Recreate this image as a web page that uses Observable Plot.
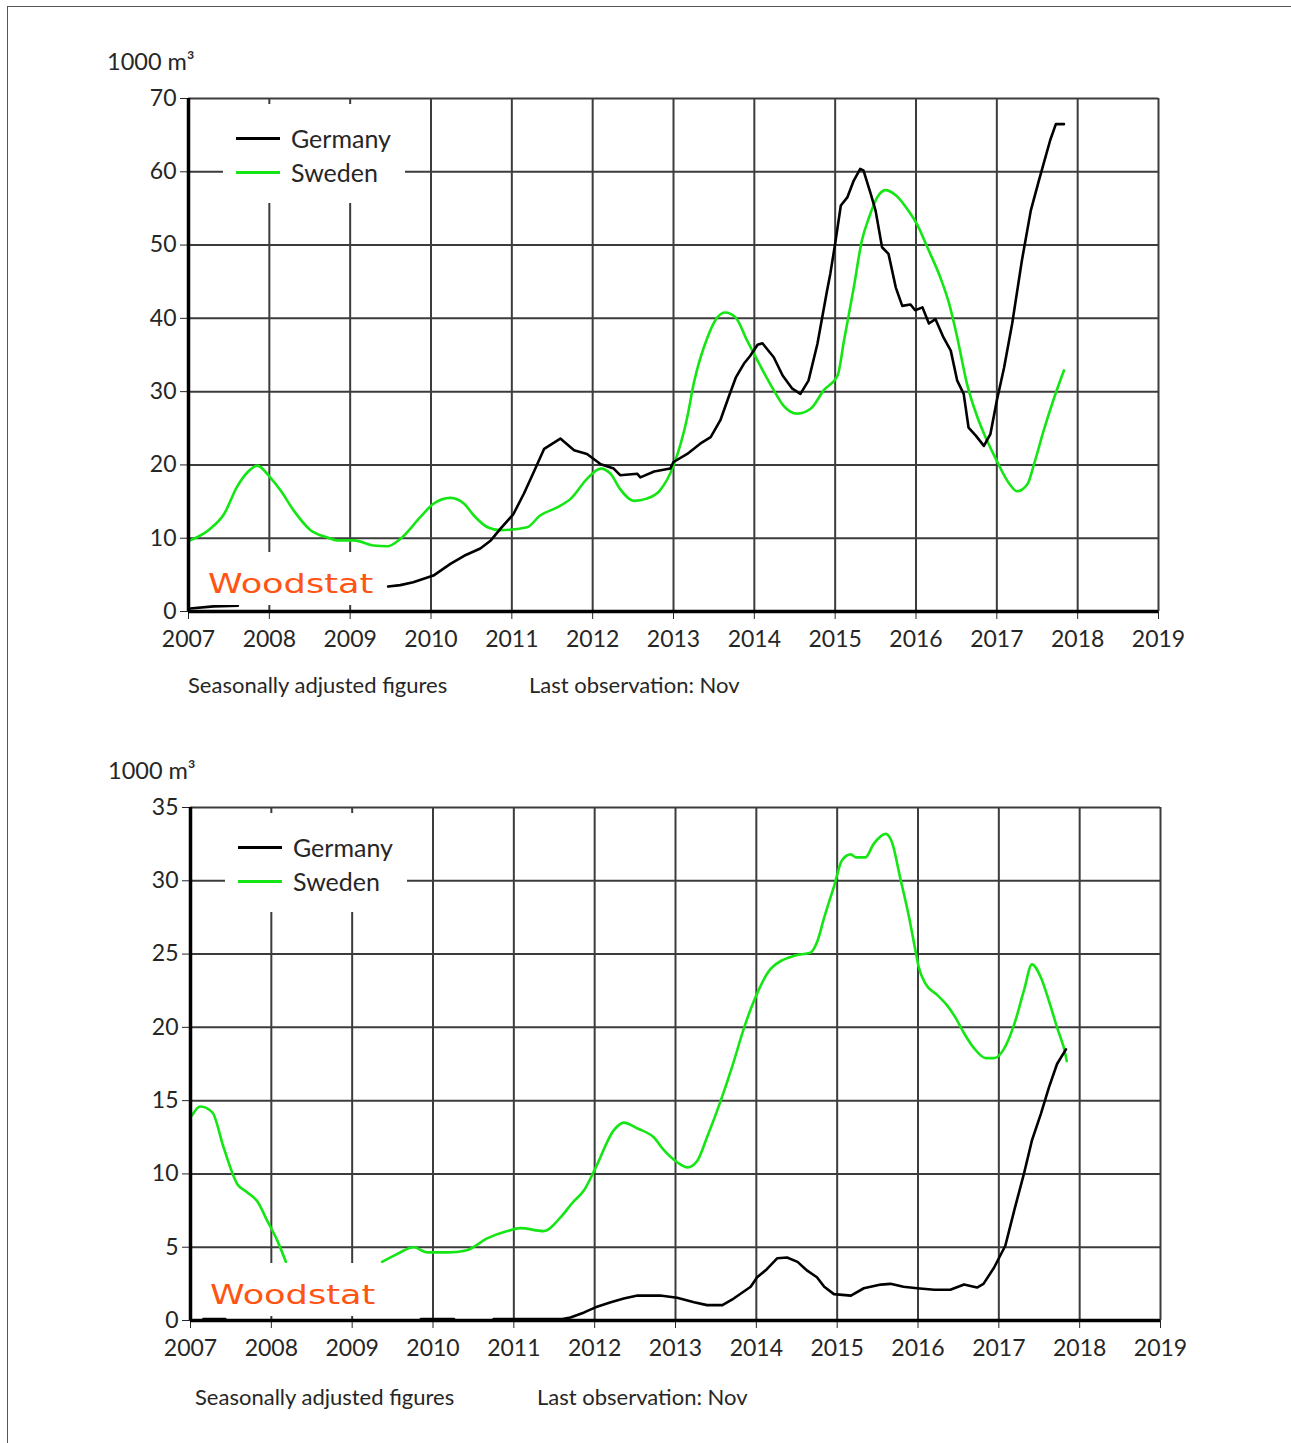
<!DOCTYPE html>
<html>
<head>
<meta charset="utf-8">
<script src="https://cdn.jsdelivr.net/npm/d3@7"></script>
<script src="https://cdn.jsdelivr.net/npm/@observablehq/plot@0.6"></script>
<style>
  html, body { margin: 0; padding: 0; background: #fff; }
  #page { position: relative; width: 1291px; height: 1443px; overflow: hidden; background: #fff; font-family: Lato, "Open Sans", sans-serif; color: #262626; }
  .frame { position: absolute; left: 7px; top: 6px; width: 1320px; height: 1480px; border: 1.2px solid #555; }
  .txt { position: absolute; white-space: nowrap; transform: translateY(-50%); line-height: 1; }
  .box { position: absolute; background: #fff; }
  .swatch { position: absolute; height: 3px; }
  .wood { position: absolute; white-space: nowrap; color: #ff5514; font-family: "DejaVu Sans", sans-serif; line-height: 1; transform-origin: left center; }
</style>
</head>
<body>
<div id="page"><div class="frame"></div></div>
<script>
// ---------- shared ticks ----------
const yearTicks = [2007, 2008, 2009, 2010, 2011, 2012, 2013, 2014, 2015, 2016, 2017, 2018, 2019];
const upperYTicks = [0, 10, 20, 30, 40, 50, 60, 70];
const lowerYTicks = [0, 5, 10, 15, 20, 25, 30, 35];
const seriesNames = ["Germany", "Sweden"];
const unitLabel = "1000 m³";
const captionLeft = "Seasonally adjusted figures";
const captionRight = "Last observation: Nov";
const watermark = "Woodstat";

// ---------- upper chart ----------
const upperGermanyYear = [2007.02, 2007.31, 2007.61, 2007.7,
  2009.47, 2009.62, 2009.78, 2010.03, 2010.24, 2010.41, 2010.61, 2010.74, 2010.86, 2011.02, 2011.15, 2011.27, 2011.40,
  2011.60, 2011.77, 2011.93, 2012.10, 2012.26, 2012.34, 2012.55, 2012.59, 2012.76, 2012.96, 2013.00, 2013.17, 2013.33,
  2013.46, 2013.58, 2013.68, 2013.77, 2013.87, 2013.95, 2014.04, 2014.10, 2014.24, 2014.35, 2014.47, 2014.57, 2014.67,
  2014.78, 2014.90, 2014.94, 2015.00, 2015.07, 2015.15, 2015.23, 2015.31, 2015.35, 2015.44, 2015.50, 2015.58, 2015.66,
  2015.75, 2015.83, 2015.93, 2015.99, 2016.08, 2016.16, 2016.24, 2016.34, 2016.43, 2016.51, 2016.59, 2016.65, 2016.74,
  2016.84, 2016.92, 2017.00, 2017.09, 2017.19, 2017.31, 2017.42, 2017.52, 2017.66, 2017.73, 2017.83];
const upperGermanyValue = [0.4, 0.7, 0.8, null,
  3.4, 3.6, 4.0, 4.9, 6.5, 7.6, 8.6, 9.7, 11.3, 13.3, 16.1, 19.0, 22.2,
  23.6, 22.0, 21.5, 20.1, 19.5, 18.6, 18.8, 18.3, 19.1, 19.5, 20.4, 21.5, 22.9,
  23.8, 26.1, 29.2, 31.9, 33.8, 34.9, 36.4, 36.6, 34.7, 32.2, 30.4, 29.7, 31.5,
  36.5, 43.8, 46.1, 50.2, 55.4, 56.5, 58.8, 60.4, 60.2, 57.0, 54.7, 49.7, 48.8,
  44.2, 41.7, 41.9, 41.1, 41.5, 39.3, 39.9, 37.4, 35.6, 31.5, 29.7, 25.1, 24.0,
  22.6, 24.2, 28.8, 33.3, 39.3, 47.9, 54.7, 58.8, 64.3, 66.5, 66.5];

const upperSwedenYear = [2007.02, 2007.27, 2007.44, 2007.60, 2007.73, 2007.85, 2008.01, 2008.14, 2008.30, 2008.51, 2008.72,
  2008.84, 2009.05, 2009.29, 2009.46, 2009.62, 2009.87, 2010.03, 2010.24, 2010.41, 2010.53, 2010.70, 2010.86, 2011.19,
  2011.35, 2011.56, 2011.73, 2011.93, 2012.10, 2012.22, 2012.34, 2012.51, 2012.67, 2012.83, 2013.00, 2013.17, 2013.25,
  2013.42, 2013.54, 2013.64, 2013.77, 2013.91, 2014.07, 2014.24, 2014.36, 2014.53, 2014.70, 2014.86, 2015.03, 2015.11,
  2015.23, 2015.33, 2015.42, 2015.52, 2015.62, 2015.75, 2015.93, 2016.01, 2016.14, 2016.30, 2016.41, 2016.51, 2016.63,
  2016.76, 2016.88, 2016.98, 2017.17, 2017.25, 2017.38, 2017.46, 2017.58, 2017.71, 2017.83];
const upperSwedenValue = [9.7, 11.3, 13.3, 17.0, 19.0, 19.9, 18.3, 16.5, 13.8, 11.1, 10.1,
  9.7, 9.7, 9.0, 8.9, 9.9, 12.9, 14.7, 15.5, 14.7, 13.1, 11.5, 11.1, 11.5,
  13.1, 14.2, 15.4, 18.1, 19.5, 18.8, 16.7, 15.1, 15.4, 16.5, 19.9, 26.5, 31.1,
  37.4, 40.1, 40.8, 40.1, 37.0, 33.6, 30.2, 28.1, 27.0, 27.7, 30.2, 32.2, 37.0,
  44.2, 50.6, 53.8, 56.5, 57.5, 56.8, 54.3, 52.9, 49.7, 45.6, 42.0, 37.4, 31.1,
  26.5, 23.3, 21.0, 17.2, 16.4, 17.4, 20.1, 24.7, 29.2, 32.9];

// ---------- lower chart ----------
const lowerGermanyYear = [2007.16, 2007.43, 2007.5,
  2009.85, 2010.26, 2010.3,
  2010.75, 2011.0, 2011.3, 2011.60, 2011.70, 2011.87, 2012.01, 2012.20, 2012.36, 2012.53, 2012.81, 2013.02, 2013.23,
  2013.39, 2013.58, 2013.72, 2013.93, 2014.01, 2014.13, 2014.26, 2014.38, 2014.51, 2014.63, 2014.75, 2014.84,
  2014.96, 2015.17, 2015.33, 2015.54, 2015.66, 2015.82, 2015.99, 2016.20, 2016.40, 2016.57, 2016.73, 2016.81,
  2016.94, 2017.08, 2017.19, 2017.31, 2017.41, 2017.52, 2017.62, 2017.72, 2017.83];
const lowerGermanyValue = [0.1, 0.1, null,
  0.1, 0.1, null,
  0.1, 0.1, 0.1, 0.1, 0.2, 0.55, 0.9, 1.25, 1.5, 1.7, 1.7, 1.55, 1.25,
  1.05, 1.05, 1.5, 2.3, 2.95, 3.5, 4.25, 4.3, 4.0, 3.4, 2.95, 2.3,
  1.8, 1.7, 2.2, 2.45, 2.5, 2.3, 2.2, 2.1, 2.1, 2.45, 2.25, 2.5,
  3.6, 5.1, 7.5, 10.0, 12.3, 14.1, 15.9, 17.5, 18.5];

const lowerSwedenYear = [2007.02, 2007.12, 2007.27, 2007.41, 2007.58, 2007.70, 2007.83, 2007.95, 2008.07, 2008.18, 2008.7,
  2009.37, 2009.56, 2009.76, 2009.93, 2010.18, 2010.42, 2010.67, 2010.92, 2011.08, 2011.37, 2011.58, 2011.72, 2011.87,
  2012.01, 2012.24, 2012.36, 2012.53, 2012.73, 2012.86, 2013.02, 2013.15, 2013.27, 2013.39, 2013.56, 2013.70, 2013.85,
  2013.97, 2014.18, 2014.48, 2014.67, 2014.75, 2014.84, 2014.96, 2015.06, 2015.17, 2015.23, 2015.35, 2015.45, 2015.60,
  2015.68, 2015.78, 2015.89, 2015.97, 2016.01, 2016.09, 2016.24, 2016.36, 2016.46, 2016.57, 2016.69, 2016.84, 2016.94,
  2017.06, 2017.19, 2017.31, 2017.41, 2017.52, 2017.62, 2017.72, 2017.83, 2017.84];
const lowerSwedenValue = [14.0, 14.6, 14.2, 11.8, 9.3, 8.75, 8.1, 6.8, 5.5, 4.0, null,
  4.0, 4.55, 5.0, 4.65, 4.65, 4.8, 5.6, 6.1, 6.3, 6.1, 7.05, 8.0, 8.9,
  10.4, 13.0, 13.5, 13.1, 12.5, 11.6, 10.8, 10.45, 10.9, 12.5, 15.0, 17.3, 20.0,
  21.8, 24.0, 24.9, 25.1, 25.8, 27.5, 29.6, 31.4, 31.8, 31.6, 31.6, 32.5, 33.2,
  32.6, 30.2, 27.5, 25.2, 24.1, 23.0, 22.2, 21.5, 20.7, 19.6, 18.6, 17.9, 17.9,
  18.5, 20.2, 22.5, 24.3, 23.4, 21.8, 20.0, 18.0, 17.7];

const seriesColors = ["#000000", "#14e614"];

function toRows(years, values) {
  return years.map((y, i) => ({year: y, value: values[i]}));
}

function makeChart(opts) {
  const gData = toRows(opts.gYear, opts.gValue);
  const sData = toRows(opts.sYear, opts.sValue);
  const svg = Plot.plot({
    width: 1291,
    height: opts.height,
    marginLeft: opts.marginLeft,
    marginRight: opts.marginRight,
    marginTop: opts.marginTop,
    marginBottom: opts.marginBottom,
    style: {fontFamily: "Lato, 'Open Sans', sans-serif", fontSize: "23px", color: "#262626", background: "transparent", overflow: "visible"},
    x: {domain: [2007, 2019], ticks: yearTicks, tickFormat: d => String(d), tickSize: 8, tickPadding: 11, label: null},
    y: {domain: [0, opts.yTicks[opts.yTicks.length - 1]], ticks: opts.yTicks, tickFormat: d => String(d), tickSize: 8, tickPadding: 4, label: null},
    marks: [
      Plot.ruleX(yearTicks, {stroke: "#3c3c3c", strokeWidth: 2}),
      Plot.ruleY(opts.yTicks, {stroke: "#3c3c3c", strokeWidth: 2}),
      Plot.line(sData, {x: "year", y: "value", stroke: seriesColors[1], strokeWidth: 2.6, curve: "monotone-x"}),
      Plot.line(gData, {x: "year", y: "value", stroke: seriesColors[0], strokeWidth: 2.6}),
      Plot.ruleX([2007], {stroke: "#000", strokeWidth: 3.5}),
      Plot.ruleY([0], {stroke: "#000", strokeWidth: 3.5})
    ]
  });
  svg.style.position = "absolute";
  svg.style.left = "0px";
  svg.style.top = opts.top + "px";
  svg.style.maxWidth = "none";
  return svg;
}

const page = document.getElementById("page");

page.appendChild(makeChart({
  top: 0, height: 705, marginTop: 98, marginBottom: 94, marginLeft: 188, marginRight: 133,
  yTicks: upperYTicks,
  gYear: upperGermanyYear, gValue: upperGermanyValue,
  sYear: upperSwedenYear, sValue: upperSwedenValue
}));
page.appendChild(makeChart({
  top: 705, height: 738, marginTop: 102, marginBottom: 123, marginLeft: 190, marginRight: 131,
  yTicks: lowerYTicks,
  gYear: lowerGermanyYear, gValue: lowerGermanyValue,
  sYear: lowerSwedenYear, sValue: lowerSwedenValue
}));

function addText(text, left, cy, size, cls) {
  const d = document.createElement("div");
  d.className = cls || "txt";
  d.textContent = text;
  d.style.left = left + "px";
  d.style.top = cy + "px";
  d.style.fontSize = size + "px";
  page.appendChild(d);
  return d;
}
function addBox(left, top, w, h) {
  const d = document.createElement("div");
  d.className = "box";
  Object.assign(d.style, {left: left + "px", top: top + "px", width: w + "px", height: h + "px"});
  page.appendChild(d);
}
function addSwatch(left, cy, w, color) {
  const d = document.createElement("div");
  d.className = "swatch";
  Object.assign(d.style, {left: left + "px", top: (cy - 1.5) + "px", width: w + "px", background: color});
  page.appendChild(d);
}
function addPanelDecor(p) {
  // unit label
  const u = addText(unitLabel, p.unitX, p.unitY, 23.5);
  // legend box
  addBox(p.legX, p.legY, 182, 99);
  addSwatch(p.legX + 13, p.legY + 34, 44, seriesColors[0]);
  addSwatch(p.legX + 13, p.legY + 68, 44, seriesColors[1]);
  addText(seriesNames[0], p.legX + 68, p.legY + 34, 25);
  addText(seriesNames[1], p.legX + 68, p.legY + 68, 25);
  // watermark
  addBox(p.wmX, p.wmY, 188, 53);
  const w = addText(watermark, p.wmX + 11, p.wmY + 31, 27, "txt wood");
  w.style.transform = "translateY(-50%) scale(1.3, 1.0)";
  // captions
  addText(captionLeft, p.capX1, p.capY, 22);
  addText(captionRight, p.capX2, p.capY, 22);
}

addPanelDecor({unitX: 107, unitY: 62, legX: 223, legY: 104, wmX: 197, wmY: 552, capX1: 188, capX2: 529, capY: 685});
addPanelDecor({unitX: 108, unitY: 771, legX: 225, legY: 813, wmX: 199, wmY: 1263, capX1: 195, capX2: 537, capY: 1397});
</script>
</body>
</html>
